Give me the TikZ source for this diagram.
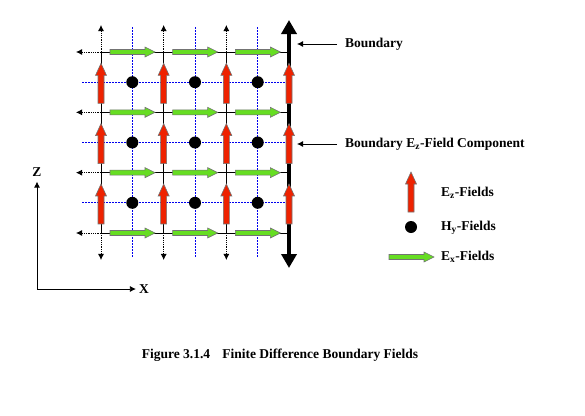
\documentclass[tikz,border=0pt]{standalone}
\usepackage{fontspec}
\setmainfont{Liberation Serif}
\usepackage{tikz}
\usetikzlibrary{arrows.meta}

\definecolor{ezred}{HTML}{EE2200}
\definecolor{exgreen}{HTML}{66DD22}
\definecolor{hyblue}{HTML}{0000EE}

\tikzset{
  lbl/.style={font=\fontsize{13.5}{16}\selectfont\bfseries, inner sep=3pt},
  gridline/.style={line width=0.8pt},
  ext/.style={densely dotted, line width=0.8pt, -{Latex[length=6pt,width=6pt]}},
  halfgrid/.style={hyblue, line width=1pt, dash pattern=on 1.5pt off 1.5pt},
  pointer/.style={line width=0.8pt, -{Latex[length=6pt,width=6pt]}},
  hydot/.style={circle, fill=black, inner sep=0pt, minimum size=12pt},
  pics/ezarrow/.style={code={
    \draw[fill=ezred, draw=black!55, line width=0.6pt]
      (-3,0) -- (-3,-28) -- (-5.5,-28) -- (0,-40) -- (5.5,-28) -- (3,-28) -- (3,0) -- cycle;}},
  pics/exarrow/.style={code={
    \draw[fill=exgreen, draw=black!55, line width=0.6pt]
      (0,-2.5) -- (35,-2.5) -- (35,-5) -- (45,0) -- (35,5) -- (35,2.5) -- (0,2.5) -- cycle;}}
}

\begin{document}
\begin{tikzpicture}[x=1pt, y=-1pt]
\useasboundingbox (0,0) rectangle (585,415);

% grid points
\foreach \i in {0,...,3}
  \foreach \j in {0,...,3}
    \coordinate (g-\i-\j) at ({101+62.67*\i},{52+60.33*\j});

% half-cell lines (Hy positions)
\foreach \x in {132.3,195,257.7}
  \draw[halfgrid] (\x,27) -- (\x,258);
\foreach \y in {82.2,142.5,202.8}
  \draw[halfgrid] (82,\y) -- (289,\y);

% cell edges
\foreach \j in {0,...,3}
  \draw[gridline] (g-0-\j) -- (g-3-\j);
\foreach \i in {0,...,2}
  \draw[gridline] (g-\i-0) -- (g-\i-3);

% grid continues
\foreach \j in {0,...,3}
  \draw[ext] (g-0-\j) -- ++(-25,0);
\foreach \i in {0,...,2} {
  \draw[ext] (g-\i-0) -- ++(0,-27);
  \draw[ext] (g-\i-3) -- ++(0,27);
}

% boundary
\coordinate (bdry-bot) at (289,268);
\coordinate (bdry-top) at (289,20);
\draw[line width=4.5pt, {Triangle[length=14pt,width=15pt]}-{Triangle[length=14pt,width=15pt]}] (bdry-bot) -- (bdry-top);

% Ex fields
\foreach \i in {0,...,2}
  \foreach \j in {0,...,3}
    \path (g-\i-\j) ++(9,0) pic {exarrow};

% Ez fields
\foreach \i in {0,...,3}
  \foreach \j in {1,...,3}
    \path (g-\i-\j) ++(0,-9) pic {ezarrow};

% Hy fields
\foreach \x [count=\i] in {132.3,195,257.7}
  \foreach \y [count=\j] in {82.2,142.5,202.8}
    \node[hydot] (hy-\i-\j) at (\x,\y) {};

% labels
\node[lbl, anchor=west] (bdry) at (342,44) {Boundary};
\coordinate (bdry-pt) at (297,44);
\draw[pointer, shorten <=5pt] (bdry.west) -- (bdry-pt);
\node[lbl, anchor=west] (bdryez) at (342,144) {Boundary E\textsubscript{z}-Field Component};
\coordinate (bdryez-pt) at (297,144);
\draw[pointer, shorten <=5pt] (bdryez.west) -- (bdryez-pt);

% legend
\path (411,212) pic {ezarrow};
\node[lbl, anchor=west] (ezkey) at (438,193) {E\textsubscript{z}-Fields};
\node[hydot] (hykey) at (411,227) {};
\node[lbl, anchor=west] (hykeytxt) at (438,228) {H\textsubscript{y}-Fields};
\path (389,257) pic {exarrow};
\node[lbl, anchor=west] (exkey) at (438,257) {E\textsubscript{x}-Fields};

% axes
\coordinate (origin) at (37,289);
\node[lbl] (zaxis) at (37,172) {Z};
\node[lbl] (xaxis) at (144,289) {X};
\draw[pointer, shorten >=2pt] (origin) -- (zaxis);
\draw[pointer] (origin) -- (xaxis);

% caption
\node[lbl] (caption) at (280,355) {Figure 3.1.4\hspace{0.9em}Finite Difference Boundary Fields};
\end{tikzpicture}
\end{document}
